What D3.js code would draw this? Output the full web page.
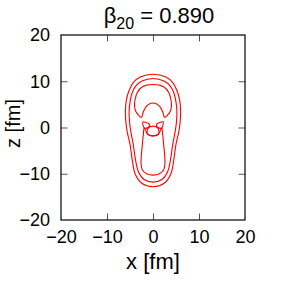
<!DOCTYPE html>
<html>
<head>
<meta charset="utf-8">
<script src="https://cdn.jsdelivr.net/npm/d3@7"></script>
<style>
  html, body { margin: 0; padding: 0; background: #fff; }
  svg { display: block; }
  text { font-family: "Liberation Sans", Arial, Helvetica, sans-serif; fill: #000; }
</style>
</head>
<body>
<svg id="chart" width="291" height="284"></svg>
<script>
// ---- data (x, z in fm) ----
const xTicks = [-20, -10, 0, 10, 20];
const zTicks = [-20, -10, 0, 10, 20];
const titleValue = "0.890";

const outerContour = [[0,11.5],[-2.8,10.9],[-4.3,9.7],[-5.2,8.0],[-5.8,5.9],[-6.0,3.6],[-5.9,1.2],[-5.6,-1.0],[-5.0,-3.6],[-4.5,-7.1],[-3.9,-10.0],[-2.5,-12.0],[0,-12.8],[2.5,-12.0],[3.9,-10.0],[4.5,-7.1],[5.0,-3.6],[5.6,-1.0],[5.9,1.2],[6.0,3.6],[5.8,5.9],[5.2,8.0],[4.3,9.7],[2.8,10.9]];

const middleContour = [[0,10.6],[-2.5,10.0],[-3.8,8.9],[-4.6,7.3],[-5.0,5.5],[-5.2,3.5],[-5.1,1.2],[-4.8,-1.0],[-4.3,-3.6],[-3.8,-7.0],[-3.2,-9.5],[-2.0,-11.2],[0,-11.8],[2.0,-11.2],[3.2,-9.5],[3.8,-7.0],[4.3,-3.6],[4.8,-1.0],[5.1,1.2],[5.2,3.5],[5.0,5.5],[4.6,7.3],[3.8,8.9],[2.5,10.0]];

const innerCap = [[0,9.3],[-2.3,8.8],[-3.4,7.6],[-3.9,6.0],[-4.0,4.5],[-3.7,3.4],[-3.1,2.6],[-2.5,2.2],[-2.1,3.4],[-1.5,4.5],[-0.8,5.1],[0,5.3],[0.8,5.1],[1.5,4.5],[2.1,3.4],[2.5,2.2],[3.1,2.6],[3.7,3.4],[4.0,4.5],[3.9,6.0],[3.4,7.6],[2.3,8.8]];

const innerLower = [[-1.9,-0.1],[-2.1,-1.5],[-2.3,-3.5],[-2.5,-5.6],[-2.6,-7.8],[-2.3,-9.2],[-1.4,-10.0],[0,-10.3],[1.4,-10.0],[2.3,-9.2],[2.6,-7.8],[2.5,-5.6],[2.3,-3.5],[2.1,-1.5],[1.9,-0.1],[1.2,-1.4],[0,-1.8],[-1.2,-1.4]];

const lobeLeft = [[-1.9,-0.1],[-2.2,1.2],[-1.5,1.1],[-0.7,0.6],[-1.1,0.0]];
const lobeRight = [[1.9,-0.1],[2.2,1.2],[1.5,1.1],[0.7,0.6],[1.1,0.0]];
const ring = [[-1.2,-1.4],[-1.1,-0.2],[0,0.3],[1.1,-0.2],[1.2,-1.4],[0,-1.8]];

const contours = [outerContour, middleContour, innerCap, innerLower, lobeLeft, lobeRight, ring];

// ---- layout ----
const svg = d3.select("#chart");
const L = 61, R = 245, T = 35, B = 220;
const x = d3.scaleLinear().domain([-20, 20]).range([L, R]);
const y = d3.scaleLinear().domain([-20, 20]).range([B, T]);
const tickLen = 6.5;

function styleAxis(g) {
  g.select(".domain").remove();
  g.selectAll(".tick line").attr("stroke", "#555").attr("stroke-width", 1);
  g.selectAll(".tick text").attr("font-size", 18).attr("fill", "#000")
    .style("font-family", '"Liberation Sans", Arial, Helvetica, sans-serif');
}
const inner = xTicks.filter(v => v > -20 && v < 20);

svg.append("g").attr("transform", `translate(0,${B})`)
  .call(d3.axisBottom(x).tickValues(xTicks).tickSizeInner(-tickLen).tickSizeOuter(0).tickPadding(10))
  .call(styleAxis)
  .selectAll(".tick").filter(d => d === -20 || d === 20).select("line").remove();
svg.append("g").attr("transform", `translate(0,${T})`)
  .call(d3.axisTop(x).tickValues(inner).tickSizeInner(-tickLen).tickSizeOuter(0).tickFormat(""))
  .call(styleAxis);
svg.append("g").attr("transform", `translate(${L},0)`)
  .call(d3.axisLeft(y).tickValues(zTicks).tickSizeInner(-tickLen).tickSizeOuter(0).tickPadding(11))
  .call(styleAxis)
  .selectAll(".tick").filter(d => d === -20 || d === 20).select("line").remove();
svg.append("g").attr("transform", `translate(${R},0)`)
  .call(d3.axisRight(y).tickValues(zTicks.filter(v => v > -20 && v < 20)).tickSizeInner(-tickLen).tickSizeOuter(0).tickFormat(""))
  .call(styleAxis);

svg.append("rect").attr("x", L).attr("y", T).attr("width", R - L).attr("height", B - T)
  .attr("fill", "none").attr("stroke", "#000").attr("stroke-width", 1.2);

// contours
const line = d3.line().x(d => x(d[0])).y(d => y(d[1])).curve(d3.curveCatmullRomClosed.alpha(0.5));
svg.append("g").selectAll("path").data(contours).join("path")
  .attr("d", line).attr("fill", "none").attr("stroke", "#ff0000").attr("stroke-width", 1.1);

// titles
svg.append("text").attr("x", 153).attr("y", 269).attr("text-anchor", "middle")
  .attr("font-size", 22).text("x [fm]");
svg.append("text").attr("transform", "translate(20,123.5) rotate(-90)").attr("text-anchor", "middle")
  .attr("font-size", 20).text("z [fm]");

const title = svg.append("text").attr("x", 159).attr("y", 23).attr("text-anchor", "middle").attr("font-size", 22);
title.append("tspan").text("β");
title.append("tspan").attr("font-size", 16).attr("dy", 6).text("20");
title.append("tspan").attr("dy", -6).text(" = " + titleValue);
</script>
</body>
</html>
